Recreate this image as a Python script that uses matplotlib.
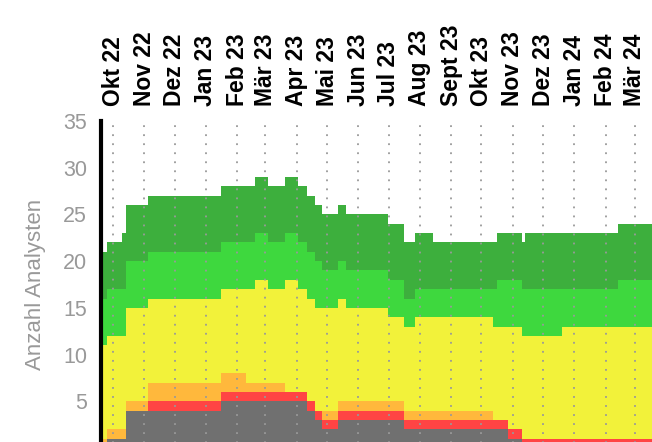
import numpy as np
import matplotlib
matplotlib.use("Agg")
import matplotlib.pyplot as plt

plt.rcParams['font.family'] = ['Liberation Sans', 'DejaVu Sans']

# change dates of the analyst ratings (value holds until next date)
dates = ["2022-09-19", "2022-09-25", "2022-10-10", "2022-10-14", "2022-11-05",
	"2023-01-16", "2023-02-10", "2023-02-19", "2023-03-03", "2023-03-20",
	"2023-04-02", "2023-04-11", "2023-04-19", "2023-04-26", "2023-05-12",
	"2023-05-20", "2023-06-30", "2023-07-16", "2023-07-27", "2023-08-14",
	"2023-10-12", "2023-10-16", "2023-10-27", "2023-11-10", "2023-11-13",
	"2023-12-20", "2024-02-13"]
end_date = "2024-03-18"

# number of analysts per rating, bottom to top
verkaufen   = [0, 1, 1, 4, 4, 5, 5, 5, 5, 5, 5, 4, 3, 2, 3, 3, 3, 2, 2, 2, 2, 2, 1, 0, 0, 0, 0]
untergew    = [0, 0, 0, 0, 1, 1, 1, 1, 1, 1, 1, 1, 1, 1, 1, 1, 1, 1, 1, 1, 1, 1, 1, 1, 1, 1, 1]
reduzieren  = [1, 1, 1, 1, 2, 2, 1, 1, 1, 0, 0, 0, 0, 1, 1, 1, 1, 1, 1, 1, 0, 0, 0, 0, 0, 0, 0]
halten      = [10, 10, 10, 10, 9, 9, 10, 11, 10, 12, 11, 11, 11, 11, 11, 10, 9, 9, 10, 10, 10, 10, 11, 11, 11, 12, 12]
uebergew    = [5, 5, 5, 5, 5, 5, 5, 5, 5, 5, 5, 5, 5, 4, 4, 4, 4, 3, 3, 3, 4, 5, 5, 5, 5, 4, 5]
kaufen      = [5, 5, 6, 6, 6, 6, 6, 6, 6, 6, 6, 6, 6, 6, 6, 6, 6, 6, 6, 5, 5, 5, 5, 5, 6, 6, 6]

colors = ["#707070", "#ff4444", "#ffb83c", "#f2f23a", "#3ed83e", "#3daf3d"]

tick_labels = ["Okt 22", "Nov 22", "Dez 22", "Jan 23", "Feb 23", "Mär 23", "Apr 23",
	"Mai 23", "Jun 23", "Jul 23", "Aug 23", "Sept 23", "Okt 23", "Nov 23", "Dez 23",
	"Jan 24", "Feb 24", "Mär 24"]

x = np.array(dates + [end_date], dtype="datetime64[D]")
series = [verkaufen, untergew, reduzieren, halten, uebergew, kaufen]
series = [s + [s[-1]] for s in series]

fig = plt.figure(figsize=(6.52, 4.42), dpi=100)
ax = fig.add_axes([101 / 652, -6 / 442, 551 / 652, 327 / 442])

ax.stackplot(x, *series, colors=colors, step="post", linewidth=0, zorder=1)

ticks = np.arange(np.datetime64("2022-10"), np.datetime64("2024-04"), np.timedelta64(1, "M")).astype("datetime64[D]")
ax.set_xticks(ticks)
ax.set_xticklabels(tick_labels, rotation=90, fontweight="bold", fontsize=16.5)
ax.xaxis.tick_top()
ax.tick_params(axis="x", length=0, pad=11, colors="black")
ax.grid(axis="x", color="#999999", linestyle=(0, (1, 4)), linewidth=1.3, zorder=3)
ax.set_axisbelow(False)

ax.set_xlim(np.datetime64("2022-09-19"), np.datetime64("2024-03-18"))
ax.set_ylim(0, 35)
ax.set_yticks([5, 10, 15, 20, 25, 30, 35])
ax.tick_params(axis="y", length=0, pad=10, labelsize=15.5, labelcolor="#999999")
ax.set_ylabel("Anzahl Analysten", fontsize=16, color="#999999", labelpad=12)

for s in ["top", "right", "bottom"]:
	ax.spines[s].set_visible(False)
ax.spines["left"].set_linewidth(3)
ax.spines["left"].set_color("black")

fig.savefig("out.png", dpi=100)
